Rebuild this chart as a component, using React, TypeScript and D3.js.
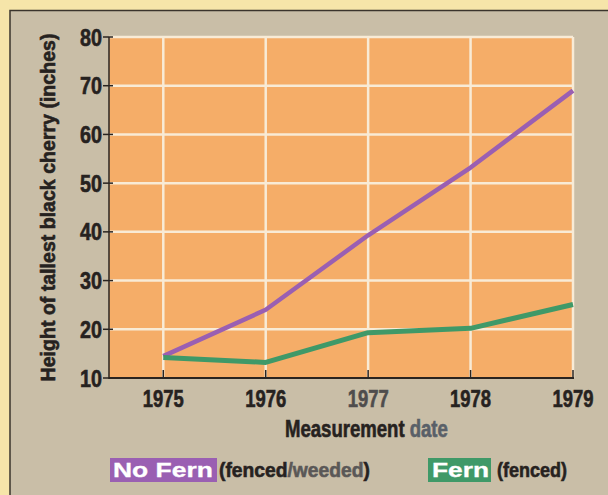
import React, { useEffect, useRef } from "react";
import * as d3 from "d3";

const years = [1975, 1976, 1977, 1978, 1979];
const noFern = [14.5, 24, 39.3, 53.2, 69];
const fern = [14.2, 13.2, 19.3, 20.2, 25.1];
const yTicks = [10, 20, 30, 40, 50, 60, 70, 80];

// condensed bold look: Liberation Sans squeezed horizontally
const FONT = "'Liberation Sans', Arial, sans-serif";
const INK = "#26221f";

const App = () => {
  const svgRef = useRef<SVGSVGElement>(null);

  useEffect(() => {
    const width = 608;
    const height = 495;
    document.body.style.margin = "0";

    const svg = d3.select(svgRef.current);
    svg.selectAll("*").remove();
    svg.attr("width", width).attr("height", height);

    // background: yellow page, beige panel
    svg.append("rect").attr("width", width).attr("height", height).attr("fill", "#f6e5a9");
    svg.append("rect").attr("x", 10).attr("y", 10).attr("width", width - 10).attr("height", height - 10)
      .attr("fill", "#c9bea7");
    svg.append("path").attr("d", `M10,${height} V10.5 H${width}`)
      .attr("fill", "none").attr("stroke", "#3a342c").attr("stroke-width", 1.5);

    const x = d3.scaleLinear().domain([1974.47, 1979]).range([109, 573]);
    const y = d3.scaleLinear().domain([10, 80]).range([378, 37]);

    // plot area
    svg.append("rect")
      .attr("x", x(1974.47)).attr("y", y(80))
      .attr("width", x(1979) - x(1974.47) + 1).attr("height", y(10) - y(80))
      .attr("fill", "#f5ad68");

    // grid
    svg.append("g").selectAll("line").data(yTicks.slice(1)).enter().append("line")
      .attr("x1", x(1974.47)).attr("x2", x(1979))
      .attr("y1", d => y(d)).attr("y2", d => y(d))
      .attr("stroke", "#f8ebd6").attr("stroke-width", 2.5);
    svg.append("g").selectAll("line").data(years).enter().append("line")
      .attr("x1", d => x(d)).attr("x2", d => x(d))
      .attr("y1", y(80)).attr("y2", y(10))
      .attr("stroke", "#f8ebd6").attr("stroke-width", 2.5);

    // axes lines
    svg.append("line").attr("x1", x(1974.47)).attr("x2", x(1974.47))
      .attr("y1", y(80)).attr("y2", y(10) + 1).attr("stroke", "#2a2420").attr("stroke-width", 1.5);
    svg.append("line").attr("x1", x(1974.47)).attr("x2", x(1979) + 1)
      .attr("y1", y(10)).attr("y2", y(10)).attr("stroke", "#2a2420").attr("stroke-width", 2);

    // text squeezed to a target width with a horizontal scale; thin stroke for a heavier face
    const squeezed = (g: any, px: number, py: number, size: number, len: number,
                      parts: [string, string][], anchor = "start", rotate = 0, heavy = 0.6) => {
      const t = g.append("text")
        .attr("font-family", FONT).attr("font-weight", "bold").attr("font-size", size)
        .attr("text-anchor", anchor);
      parts.forEach(([txt, fill]) => t.append("tspan").attr("fill", fill)
        .attr("stroke", fill).attr("stroke-width", heavy).text(txt));
      const natural = (t.node() as SVGTextElement).getComputedTextLength() || len;
      t.attr("transform", `translate(${px},${py}) rotate(${rotate}) scale(${len / natural},1)`);
      return t;
    };

    // y ticks
    const yt = svg.append("g");
    yTicks.forEach(t => {
      yt.append("line").attr("x1", x(1974.47) - 6).attr("x2", x(1974.47) + 4)
        .attr("y1", y(t)).attr("y2", y(t)).attr("stroke", "#2a2420").attr("stroke-width", 1.5);
      squeezed(yt, 102, y(t) + 8.5, 23.5, 22, [[String(t), INK]], "end");
    });

    // x ticks
    const xt = svg.append("g");
    years.forEach(yr => {
      xt.append("line").attr("x1", x(yr)).attr("x2", x(yr))
        .attr("y1", y(10) - 8).attr("y2", y(10)).attr("stroke", "#2a2420").attr("stroke-width", 1.5);
      squeezed(xt, x(yr), 407, 23.5, 41, [[String(yr), yr === 1977 ? "#4f4d4d" : INK]], "middle");
    });

    // lines
    const line = d3.line<number>().x((_, i) => x(years[i])).y(d => y(d));
    svg.append("path").datum(noFern).attr("d", line)
      .attr("fill", "none").attr("stroke", "#9a5fb2").attr("stroke-width", 4.5).attr("stroke-linejoin", "round");
    svg.append("path").datum(fern).attr("d", line)
      .attr("fill", "none").attr("stroke", "#3f9968").attr("stroke-width", 5).attr("stroke-linejoin", "round");

    // axis titles
    squeezed(svg, 55, (y(80) + y(10)) / 2, 20.5, 348,
      [["Height of tallest black cherry (inches)", INK]], "middle", -90);
    squeezed(svg, 285, 437, 23.5, 163, [["Measurement ", INK], ["date", "#596068"]]);

    // legend
    const lg = svg.append("g");
    lg.append("rect").attr("x", 110).attr("y", 458).attr("width", 107).attr("height", 24).attr("fill", "#9a5fb2");
    squeezed(lg, 113, 477, 20, 100, [["No Fern", "#ffffff"]], "start", 0, 0.3);
    squeezed(lg, 219, 477, 21, 151, [["(fenced", INK], ["/weeded", "#5a5857"], [")", INK]]);

    lg.append("rect").attr("x", 428).attr("y", 458).attr("width", 63).attr("height", 24).attr("fill", "#3f9968");
    squeezed(lg, 432, 477, 20, 57, [["Fern", "#ffffff"]], "start", 0, 0.3);
    squeezed(lg, 497, 477, 21, 70, [["(fenced)", INK]]);
  }, []);

  return <svg ref={svgRef} style={{ display: "block" }}></svg>;
};

export default App;
